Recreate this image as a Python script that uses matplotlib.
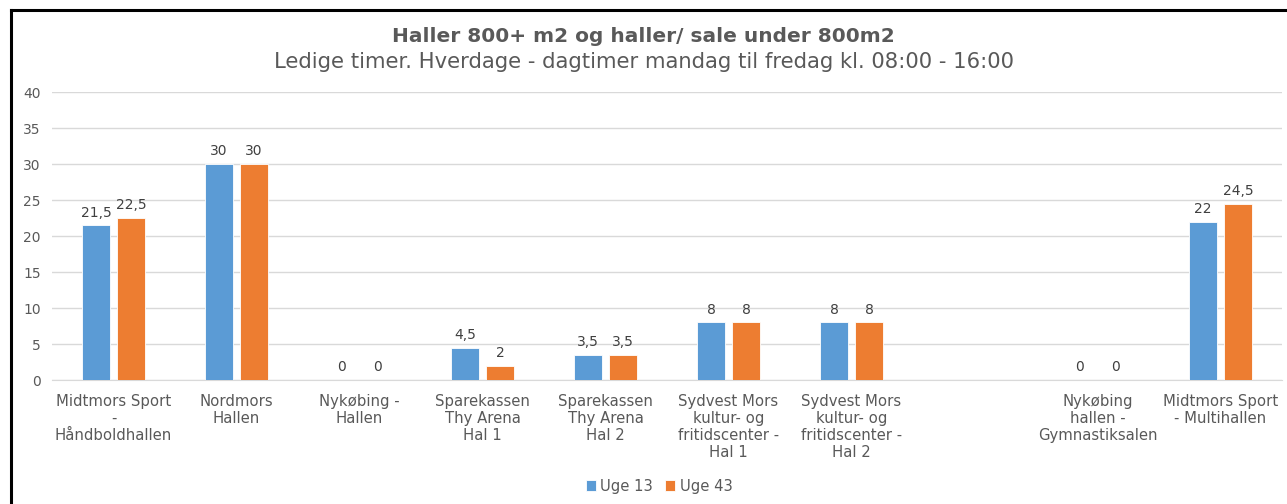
import matplotlib.pyplot as plt
import numpy as np
from matplotlib.lines import Line2D

plt.rcParams['font.family'] = ['DejaVu Sans']

categories = ["Midtmors Sport\n-\nHåndboldhallen", "Nordmors\nHallen", "Nykøbing -\nHallen",
              "Sparekassen\nThy Arena\nHal 1", "Sparekassen\nThy Arena\nHal 2",
              "Sydvest Mors\nkultur- og\nfritidscenter -\nHal 1",
              "Sydvest Mors\nkultur- og\nfritidscenter -\nHal 2", "",
              "Nykøbing\nhallen -\nGymnastiksalen", "Midtmors Sport\n- Multihallen"]
uge13 = [21.5, 30, 0, 4.5, 3.5, 8, 8, np.nan, 0, 22]
uge43 = [22.5, 30, 0, 2, 3.5, 8, 8, np.nan, 0, 24.5]
series = ["Uge 13", "Uge 43"]
colors = ["#5B9BD5", "#ED7D31"]

def fmt(v):
    s = f"{v:g}"
    return s.replace(".", ",")

fig = plt.figure(figsize=(12.87, 5.04), dpi=100)
ax = fig.add_axes([52/1287, 1-380/504, 1230/1287, 288/504])

x = np.arange(len(categories))
w = 0.23
for i, (vals, name, c) in enumerate(zip([uge13, uge43], series, colors)):
    xs = x + (i - 0.5) * 0.285
    bars = ax.bar(xs, vals, w, color=c, label=name, edgecolor="white", linewidth=0.6, zorder=3)
    for xi, v in zip(xs, vals):
        if not np.isnan(v):
            ax.annotate(fmt(v), (xi, v), xytext=(0, 4), textcoords="offset points",
                        ha="center", va="bottom", fontsize=10, color="#404040")

ax.set_xlim(-0.5, len(categories) - 0.5)
ax.set_ylim(0, 40)
ax.set_yticks(range(0, 41, 5))
ax.yaxis.grid(True, color="#D9D9D9", linewidth=1, zorder=0)
ax.set_axisbelow(True)
for s in ["top", "right", "left"]:
    ax.spines[s].set_visible(False)
ax.spines["bottom"].set_color("#D9D9D9")
ax.tick_params(axis="both", length=0, colors="#595959", labelsize=10)
ax.tick_params(axis="x", pad=10, labelsize=10.7)
ax.tick_params(axis="y", pad=8)
ax.set_xticks(x)
ax.set_xticklabels(categories, linespacing=1.18)

fig.text(0.5, 1-36/504, "Haller 800+ m2 og haller/ sale under 800m2", ha="center", va="center",
         fontsize=14.5, fontweight="bold", color="#595959")
fig.text(0.5, 1-62/504, "Ledige timer. Hverdage - dagtimer mandag til fredag kl. 08:00 - 16:00",
         ha="center", va="center", fontsize=15.2, color="#595959")

leg = fig.legend(loc="center", bbox_to_anchor=(659/1287, 1-486/504), ncol=2, frameon=False,
                 fontsize=10.6, handlelength=0.7, handleheight=0.7, handletextpad=0.3,
                 columnspacing=0.8, labelcolor="#595959")

# frame around chart
fig.add_artist(Line2D([11/1287, 11/1287], [0, 1-10/504], color="black", linewidth=2.2,
                      transform=fig.transFigure))
fig.add_artist(Line2D([11/1287, 1], [1-10/504, 1-10/504], color="black", linewidth=2.2,
                      transform=fig.transFigure))

fig.savefig("out.png", dpi=100)
